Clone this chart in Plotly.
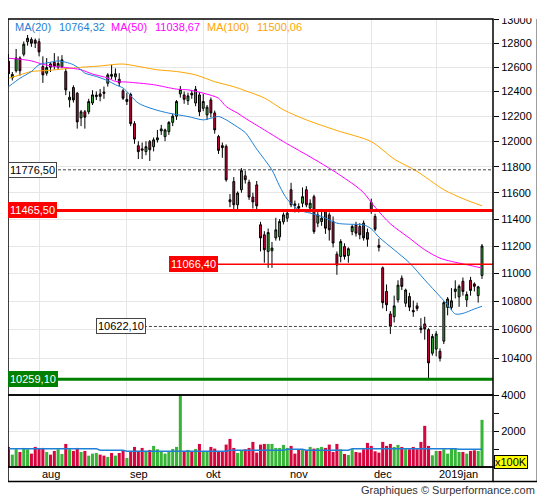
import numpy as np
import pandas as pd
import plotly.graph_objects as go

# ---- trading days (Xetra calendar, holidays removed) ----
closed_days = ['2018-10-03', '2018-12-24', '2018-12-25', '2018-12-26', '2018-12-31', '2019-01-01']
days = pd.bdate_range('2018-07-20', '2019-01-18')
dates = [d.strftime('%Y-%m-%d') for d in days if d.strftime('%Y-%m-%d') not in closed_days]

month_starts = ['2018-08-01', '2018-09-03', '2018-10-01', '2018-11-01', '2018-12-03', '2019-01-02']
month_labels = ['aug', 'sep', 'okt', 'nov', 'dec', '2019jan']

# ---- OHLC ----
opens = [12650, 12512, 12570, 12676, 12708, 12813, 12832, 12825, 12813, 12605,
         12550, 12627, 12640, 12600, 12603, 12564, 12331, 12432, 12385, 12186,
         12235, 12235, 12306, 12358, 12380, 12395, 12467, 12540, 12520, 12500,
         12405, 12318, 12375, 12140, 11965, 11940, 11918, 11997, 11957, 12011,
         12082, 12036, 12076, 12150, 12200, 12380, 12372, 12325, 12385, 12306,
         12372, 12263, 12210, 12331, 12226, 12037, 11965, 11960, 11546, 11686,
         11508, 11623, 11730, 11680, 11567, 11660, 11358, 11283, 11160, 11165,
         11260, 11268, 11380, 11407, 11623, 11515, 11495, 11520, 11623, 11483,
         11570, 11370, 11382, 11457, 11432, 11382, 11140, 11123, 11196, 11130,
         11307, 11358, 11345, 11370, 11300, 11525, 11420, 11205, 11040, 10870,
         10710, 10690, 10810, 10965, 10786, 10834, 10735, 10767, 10612, 10640,
         10600, 10437, 10465, 10450, 10520, 10756, 10756, 10870, 10831, 10943,
         10810, 10950, 10924, 10840, 10985]
highs = [12708, 12560, 12752, 12690, 12815, 12870, 12850, 12840, 12840, 12690,
         12676, 12640, 12717, 12690, 12700, 12590, 12400, 12450, 12395, 12250,
         12250, 12340, 12410, 12400, 12420, 12440, 12550, 12620, 12590, 12550,
         12420, 12390, 12390, 12160, 12000, 11990, 12000, 12010, 12030, 12090,
         12130, 12100, 12160, 12220, 12330, 12445, 12400, 12390, 12410, 12445,
         12395, 12380, 12290, 12350, 12245, 12050, 11990, 11975, 11590, 11720,
         11610, 11790, 11770, 11700, 11600, 11690, 11380, 11310, 11330, 11230,
         11410, 11400, 11450, 11460, 11676, 11540, 11520, 11640, 11650, 11550,
         11585, 11460, 11460, 11470, 11450, 11420, 11160, 11250, 11220, 11190,
         11360, 11380, 11370, 11390, 11330, 11555, 11440, 11255, 11050, 10920,
         10730, 10840, 10950, 10985, 10890, 10860, 10805, 10790, 10680, 10690,
         10610, 10570, 10590, 10470, 10800, 10830, 10894, 10950, 10920, 10970,
         10870, 10975, 10935, 10910, 11215]
lows = [12450, 12490, 12555, 12530, 12690, 12780, 12770, 12760, 12690, 12470,
        12530, 12560, 12580, 12580, 12590, 12370, 12270, 12310, 12100, 12120,
        12100, 12215, 12290, 12330, 12320, 12340, 12440, 12500, 12490, 12440,
        12330, 12290, 12120, 11980, 11860, 11860, 11890, 11845, 11920, 11990,
        12050, 12000, 12050, 12120, 12170, 12350, 12300, 12290, 12340, 12280,
        12200, 12240, 12170, 12190, 12060, 11900, 11870, 11685, 11490, 11470,
        11470, 11600, 11670, 11545, 11480, 11470, 11160, 11077, 11040, 11040,
        11240, 11240, 11360, 11380, 11490, 11450, 11450, 11490, 11490, 11450,
        11290, 11340, 11350, 11290, 11240, 11190, 10990, 11080, 11100, 11077,
        11280, 11270, 11250, 11240, 11195, 11440, 11310, 11160, 10750, 10730,
        10570, 10650, 10790, 10880, 10760, 10730, 10690, 10730, 10575, 10530,
        10266, 10420, 10415, 10380, 10500, 10700, 10740, 10820, 10760, 10840,
        10760, 10840, 10870, 10790, 10960]
closes = [12545, 12540, 12676, 12570, 12792, 12842, 12800, 12800, 12727, 12536,
          12597, 12600, 12610, 12630, 12661, 12413, 12353, 12331, 12154, 12235,
          12192, 12318, 12372, 12370, 12360, 12385, 12536, 12525, 12545, 12470,
          12345, 12335, 12140, 12017, 11918, 11930, 11957, 11933, 12011, 12027,
          12098, 12090, 12150, 12200, 12318, 12417, 12336, 12364, 12372, 12417,
          12235, 12318, 12272, 12226, 12090, 11928, 11950, 11699, 11531, 11508,
          11597, 11770, 11700, 11567, 11530, 11500, 11260, 11172, 11300, 11185,
          11320, 11382, 11432, 11445, 11508, 11505, 11483, 11570, 11508, 11520,
          11307, 11432, 11407, 11332, 11320, 11222, 11060, 11233, 11123, 11180,
          11345, 11295, 11283, 11260, 11250, 11465, 11325, 11190, 10790, 10775,
          10622, 10767, 10915, 10906, 10880, 10758, 10725, 10748, 10600, 10605,
          10370, 10552, 10570, 10402, 10790, 10816, 10803, 10887, 10907, 10870,
          10848, 10877, 10907, 10903, 11200]

# volume in units of 100K
volumes = [1116, 688, 986, 837, 1060, 986, 744, 1116, 1023, 1060,
           837, 688, 893, 986, 725, 1283, 986, 893, 1060, 837,
           893, 632, 744, 781, 688, 632, 558, 781, 632, 781,
           893, 502, 893, 1116, 893, 1060, 837, 949, 1172, 986,
           837, 744, 893, 1004, 1116, 4000, 893, 949, 837, 1004,
           1283, 837, 837, 1116, 1023, 837, 837, 1246, 1562, 1060,
           781, 911, 986, 1060, 1395, 800, 1246, 1283, 1283, 1283,
           1060, 1060, 1228, 1060, 1172, 744, 986, 986, 930, 1116,
           1023, 1060, 1116, 1060, 1246, 837, 1283, 986, 725, 670,
           986, 837, 800, 986, 1339, 1172, 874, 800, 1395, 1172,
           1283, 1116, 1228, 1116, 986, 986, 1116, 986, 1395, 2288,
           1172, 651, 893, 893, 986, 744, 1023, 1023, 837, 837,
           744, 893, 930, 893, 2623]

# moving averages read at sample days (index into dates)
ma20_idx = [0, 3, 6, 8, 11, 13, 15, 17, 19, 20, 23, 26, 28, 30, 34, 38, 42, 47, 51, 53,
            55, 57, 60, 62, 65, 69, 71, 73, 76, 79, 82, 86, 89, 93, 95, 97, 101, 105,
            109, 113, 115, 117, 119, 122, 124]
ma20_val = [12439, 12508, 12564, 12620, 12641, 12652, 12641, 12620, 12578, 12551, 12523,
            12488, 12455, 12428, 12305, 12256, 12224, 12197, 12170, 12183, 12197, 12170,
            12112, 12069, 11938, 11775, 11650, 11550, 11470, 11445, 11420, 11370, 11362,
            11357, 11328, 11266, 11172, 11077, 10953, 10834, 10774, 10710, 10714, 10745,
            10764.32]
ma50_idx = [0, 3, 6, 9, 12, 15, 19, 22, 26, 28, 31, 38, 44, 47, 51, 55, 57, 60, 62, 67,
            72, 80, 85, 91, 93, 96, 100, 105, 109, 113, 116, 120, 124]
ma50_val = [12674, 12666, 12652, 12624, 12605, 12597, 12578, 12543, 12510, 12482, 12477,
            12455, 12419, 12413, 12386, 12345, 12277, 12224, 12183, 12090, 11997, 11860,
            11770, 11650, 11600, 11490, 11365, 11258, 11172, 11111, 11087, 11063, 11038.67]
ma100_idx = [0, 3, 6, 10, 15, 20, 24, 27, 30, 39, 44, 49, 54, 59, 62, 67, 72, 78, 86, 95,
             101, 107, 114, 119, 124]
ma100_val = [12508, 12536, 12564, 12572, 12587, 12601, 12610, 12620, 12626, 12578, 12564,
             12536, 12480, 12439, 12406, 12347, 12251, 12170, 12085, 11997, 11860, 11764,
             11623, 11555, 11500.06]
vma_idx = [0, 23, 24, 30, 31, 57, 58, 72, 73, 77, 78, 89, 90, 92, 93, 106, 107, 117, 118, 124]
vma_val = [1020, 1020, 930, 930, 875, 875, 930, 930, 990, 990, 930, 930, 1020, 1020,
           1060, 1060, 1020, 1020, 990, 990]

# horizontal reference levels
levels = [11776.50, 11465.50, 11066.40, 10622.10, 10259.10]
level_text = ['11776,50', '11465,50', '11066,40', '10622,10', '10259,10']
legend_text = ['MA(20)', '10764,32', 'MA(50)', '11038,67', 'MA(100)', '11500,06']

GREEN = '#38b538'
RED = '#d8063f'
BLUE = '#1f7fd6'
MAGENTA = '#ff00ff'
ORANGE = '#ffa500'
GRID = '#e6e6e6'
FONT = 'Liberation Sans, Arial, sans-serif'

# the page body adds an 8px offset, so the figure is 8px smaller than the window
OFF = 8
W, H = 545 - OFF, 500 - OFF
L, R, T, B = 0, 51.7, 19 - OFF, 500 - 467.3
PW, PH = W - L - R, H - T - B
def px(x):
    # x in window pixels -> paper
    return (x - OFF - L) / PW
def py(y):
    # y in window pixels -> paper
    return (467.3 - y) / PH

vol_top = py(395.3)

fig = go.Figure()

fig.add_trace(go.Candlestick(
    x=dates, open=opens, high=highs, low=lows, close=closes,
    increasing=dict(line=dict(color='black', width=1), fillcolor=GREEN),
    decreasing=dict(line=dict(color='black', width=1), fillcolor=RED),
    whiskerwidth=0, hoverinfo='skip', showlegend=False,
    xaxis='x', yaxis='y'
))

for idx, val, col in [(ma100_idx, ma100_val, ORANGE), (ma50_idx, ma50_val, MAGENTA),
                      (ma20_idx, ma20_val, BLUE)]:
    fig.add_trace(go.Scatter(
        x=[dates[i] for i in idx], y=val, mode='lines',
        line=dict(color=col, width=1, shape='spline', smoothing=0.8),
        hoverinfo='skip', showlegend=False, xaxis='x', yaxis='y'
    ))

bar_colors = [GREEN if c >= o else RED for o, c in zip(opens, closes)]
fig.add_trace(go.Bar(
    x=dates, y=volumes, marker=dict(color=bar_colors, line=dict(width=0)),
    hoverinfo='skip', showlegend=False, xaxis='x2', yaxis='y2'
))
fig.add_trace(go.Scatter(
    x=[dates[i] for i in vma_idx], y=vma_val, mode='lines',
    line=dict(color=BLUE, width=1.5),
    hoverinfo='skip', showlegend=False, xaxis='x2', yaxis='y2'
))

x_range = [-0.13, 126.88]

# reference lines (shapes on a log axis take data values)
line_start = [px(53), 0, px(217), px(144), 0]
line_color = ['#444444', '#ff0000', '#ff0000', '#444444', '#008000']
line_width = [1, 3, 1.5, 1, 3]
line_dash = ['3px,2px', 'solid', 'solid', '3px,2px', 'solid']
shapes = []
for v, x0, c, w, d in zip(levels, line_start, line_color, line_width, line_dash):
    shapes.append(dict(type='line', xref='x domain', yref='y', x0=x0, x1=1, y0=v, y1=v,
                       line=dict(color=c, width=w, dash=d)))

# hide the upper half of the top tick label, as in the original image
shapes.append(dict(type='rect', xref='paper', yref='paper', x0=px(494.5), x1=px(537),
                   y0=py(18.2), y1=py(0), fillcolor='white', line=dict(width=0),
                   layer='above'))
# frames
band_bottom = py(481.7)
for y0, y1 in [(vol_top, 1), (0, vol_top), (band_bottom, 0)]:
    shapes.append(dict(type='rect', xref='paper', yref='paper', x0=0, x1=1, y0=y0, y1=y1,
                       line=dict(color='black', width=1.5), layer='above'))
shapes.append(dict(type='line', xref='paper', yref='paper', x0=1, x1=px(537.7),
                   y0=band_bottom, y1=band_bottom, line=dict(color='black', width=1.5),
                   layer='above'))
shapes.append(dict(type='line', xref='paper', yref='paper', x0=px(537.7), x1=px(537.7),
                   y0=band_bottom, y1=1, line=dict(color='black', width=1.5),
                   layer='above'))

annotations = []
leg_x = [13, 57, 109.5, 153, 205, 255.5]
leg_col = [BLUE, BLUE, MAGENTA, MAGENTA, ORANGE, ORANGE]
for t, x, c in zip(legend_text, leg_x, leg_col):
    annotations.append(dict(text=t, xref='paper', yref='paper', x=px(x), y=py(27),
                            xanchor='left', yanchor='middle', showarrow=False,
                            font=dict(family=FONT, size=11, color=c)))

label_x = [0, 0, px(168.6), px(95.6), 0]
label_bg = ['white', '#ff0000', '#ff0000', 'white', '#008000']
label_fg = ['black', 'white', 'white', 'black', 'white']
label_border = ['#444444', '#ff0000', '#ff0000', '#444444', '#008000']
for v, t, x, bg, fg, bc in zip(levels, level_text, label_x, label_bg, label_fg, label_border):
    annotations.append(dict(text=t, xref='paper', yref='y', x=x, y=np.log10(v),
                            xanchor='left', yanchor='middle', showarrow=False,
                            bgcolor=bg, bordercolor=bc, borderwidth=1, borderpad=1,
                            font=dict(family=FONT, size=11, color=fg)))

for m, t in zip(month_starts, month_labels):
    annotations.append(dict(text=t, xref='x2', yref='paper', x=m, y=py(474.3),
                            xanchor='left', yanchor='middle', xshift=1, showarrow=False,
                            font=dict(family=FONT, size=11, color='black')))

annotations.append(dict(text='x100K', xref='paper', yref='paper', x=px(494.3), y=py(462.5),
                        xanchor='left', yanchor='middle', showarrow=False,
                        bgcolor='#ffff00', bordercolor='black', borderwidth=1, borderpad=0,
                        font=dict(family=FONT, size=11, color='black')))
annotations.append(dict(text='Graphiques \u00a9 Surperformance.com', xref='paper', yref='paper',
                        x=px(537), y=py(490), xanchor='right', yanchor='middle',
                        showarrow=False, font=dict(family=FONT, size=11, color='#333333')))

price_ticks = list(range(10400, 13001, 200))

fig.update_layout(
    width=W, height=H,
    margin=dict(l=L, r=R, t=T, b=B, pad=0),
    paper_bgcolor='white', plot_bgcolor='white',
    font=dict(family=FONT, size=11, color='black'),
    showlegend=False,
    bargap=0.2,
    xaxis=dict(domain=[0, 1], anchor='y', type='category', range=x_range,
               tickvals=month_starts, showticklabels=False, ticks='',
               showgrid=True, gridcolor=GRID, gridwidth=1, automargin=False,
               rangeslider=dict(visible=False), showline=False, zeroline=False),
    yaxis=dict(domain=[vol_top, 1], anchor='x', type='log',
               range=[np.log10(10153), np.log10(13006)], side='right',
               tickvals=price_ticks, ticktext=[str(v) for v in price_ticks],
               ticks='outside', ticklen=5, tickcolor='black', automargin=False,
               showgrid=True, gridcolor=GRID, showline=False, zeroline=False,
               tickfont=dict(family=FONT, size=11, color='black')),
    xaxis2=dict(domain=[0, 1], anchor='y2', type='category', range=x_range, matches='x',
                tickvals=month_starts, showticklabels=False, ticks='', automargin=False,
                showgrid=True, gridcolor=GRID, showline=False, zeroline=False),
    yaxis2=dict(domain=[0, vol_top], anchor='x2', range=[0, 4000], side='right',
                tickvals=[2000, 4000], ticktext=['2000', '4000'], automargin=False,
                ticks='outside', ticklen=5, tickcolor='black',
                minor=dict(tickvals=[1000, 3000], ticks='outside', ticklen=5,
                           tickcolor='black', showgrid=False),
                showgrid=True, gridcolor=GRID, showline=False, zeroline=False,
                tickfont=dict(family=FONT, size=11, color='black')),
    shapes=shapes,
    annotations=annotations,
)

fig.write_html("out.html")
